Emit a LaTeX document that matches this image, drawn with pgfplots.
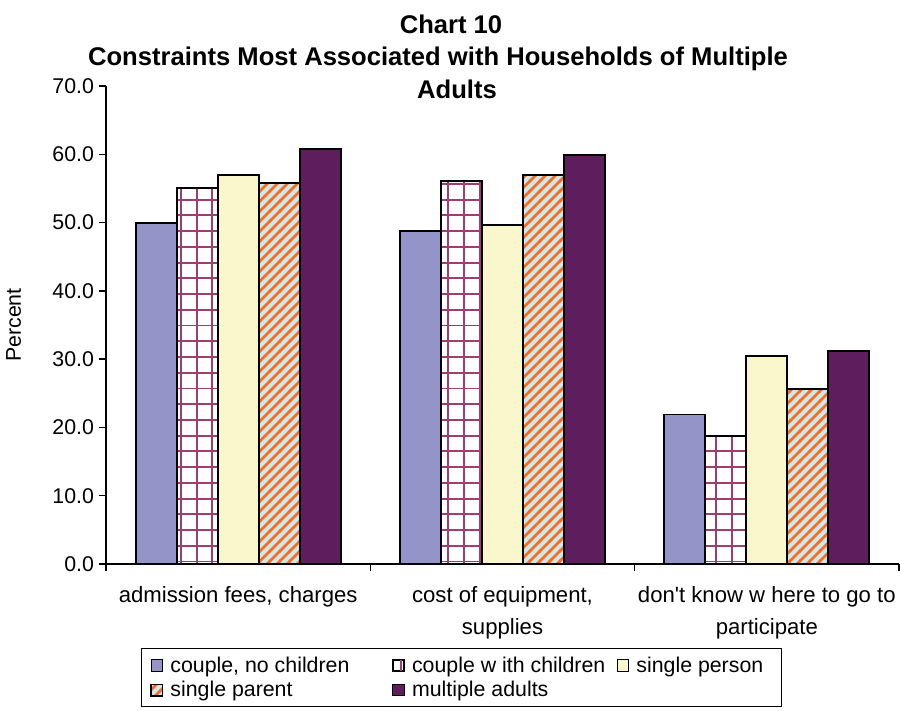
\documentclass[border=0pt]{standalone}
\usepackage{fontspec}
\setmainfont{Liberation Sans}
\usepackage{pgfplots}
\pgfplotsset{compat=1.18}
\usetikzlibrary{patterns}

\definecolor{cnc}{HTML}{9494C8}
\definecolor{plum}{HTML}{9E3D6E}
\definecolor{ivory}{HTML}{FAF7CC}
\definecolor{aqua}{HTML}{CCE9EE}
\definecolor{orng}{HTML}{FF6A1A}
\definecolor{dpurp}{HTML}{5E1E5E}

% square grid used for "couple with children"
\pgfdeclarepatternformonly{plaidgrid}{\pgfqpoint{-1pt}{-1pt}}{\pgfqpoint{12.8pt}{12.8pt}}{\pgfqpoint{11.8pt}{11.8pt}}{%
  \pgfsetlinewidth{1.4pt}%
  \pgfpathmoveto{\pgfqpoint{-1pt}{5.9pt}}\pgfpathlineto{\pgfqpoint{12.8pt}{5.9pt}}%
  \pgfpathmoveto{\pgfqpoint{5.9pt}{-1pt}}\pgfpathlineto{\pgfqpoint{5.9pt}{12.8pt}}%
  \pgfusepath{stroke}}
% wide diagonal stripes used for "single parent"
\pgfdeclarepatternformonly{widestripes}{\pgfqpoint{-1pt}{-1pt}}{\pgfqpoint{8.5pt}{8.5pt}}{\pgfqpoint{7.5pt}{7.5pt}}{%
  \pgfsetlinewidth{2.1pt}%
  \pgfpathmoveto{\pgfqpoint{-1pt}{-1pt}}\pgfpathlineto{\pgfqpoint{8.5pt}{8.5pt}}%
  \pgfusepath{stroke}}

\begin{document}
\begin{tikzpicture}
\useasboundingbox (0,0) rectangle (675.75pt,533.25pt);
\node[anchor=north, align=center, inner sep=0pt,
      font=\bfseries\fontsize{19.2}{24.4}\selectfont]
  at (338.25pt,522.5pt)
  {Chart 10\\Constraints Most Associated with Households of Multiple\hspace{19.5pt}\mbox{}\\\hspace*{9pt}Adults};
\begin{axis}[
  at={(79.5pt,110.25pt)}, anchor=south west,
  scale only axis, width=594.75pt, height=358.5pt,
  ybar=0pt, bar width=0.155,
  xmin=-0.5, xmax=2.5, ymin=0, ymax=70,
  axis lines*=left,
  axis line style={line width=1pt, black},
  tick align=outside, major tick length=5.5pt,
  ytick={0,10,...,70},
  yticklabel style={font=\fontsize{16}{19}\selectfont,
    /pgf/number format/.cd, fixed, fixed zerofill, precision=1, assume math mode=true},
  ytick style={line width=1pt, black},
  xtick={0,1,2},
  xticklabels={{admission fees, charges},{cost of equipment,\\supplies},{don\textquotesingle t know w here to go to\\participate}},
  xticklabel style={align=center, yshift=-8pt, font=\fontsize{16.6}{23.5}\selectfont},
  xtick style={draw=none},
  extra x ticks={-0.5,0.5,1.5,2.5},
  extra x tick labels={},
  extra x tick style={xtick style={draw=black, line width=1pt}},
  ylabel={Percent},
  ylabel style={font=\fontsize{16}{19}\selectfont, at={(axis description cs:-0.1166,0.5)}, anchor=center},
  legend style={at={(0.044,-0.176)}, anchor=north west, draw=black, line width=0.75pt,
    font=\fontsize{16}{19}\selectfont, inner xsep=7pt, inner ysep=4.5pt, row sep=2.5pt,
    nodes={inner sep=1.5pt},
    /tikz/every odd column/.append style={column sep=4pt}},
  legend columns=3,
  legend cell align=left,
  legend image code/.code={\draw[#1, line width=0.75pt] (0pt,-4.25pt) rectangle (8.5pt,4.25pt);},
]
\addplot[draw=black, line width=1.4pt, fill=cnc]
  coordinates {(0,50.0) (1,48.8) (2,21.9)};
\addlegendentry{\makebox[165pt][l]{couple, no children}}
\addplot[draw=black, line width=1.4pt, preaction={fill=white},
  pattern=plaidgrid, pattern color=plum]
  coordinates {(0,55.0) (1,56.1) (2,18.7)};
\addlegendentry{\makebox[152pt][l]{couple w ith children}}
\addplot[draw=black, line width=1.4pt, fill=ivory]
  coordinates {(0,57.0) (1,49.7) (2,30.4)};
\addlegendentry{\makebox[100pt][l]{single person}}
\addplot[draw=black, line width=1.4pt, preaction={fill=aqua},
  pattern=widestripes, pattern color=orng]
  coordinates {(0,55.8) (1,57.0) (2,25.6)};
\addlegendentry{\makebox[165pt][l]{single parent}}
\addplot[draw=black, line width=1.4pt, fill=dpurp]
  coordinates {(0,60.8) (1,59.9) (2,31.2)};
\addlegendentry{\makebox[152pt][l]{multiple adults}}
\end{axis}
\end{tikzpicture}
\end{document}
